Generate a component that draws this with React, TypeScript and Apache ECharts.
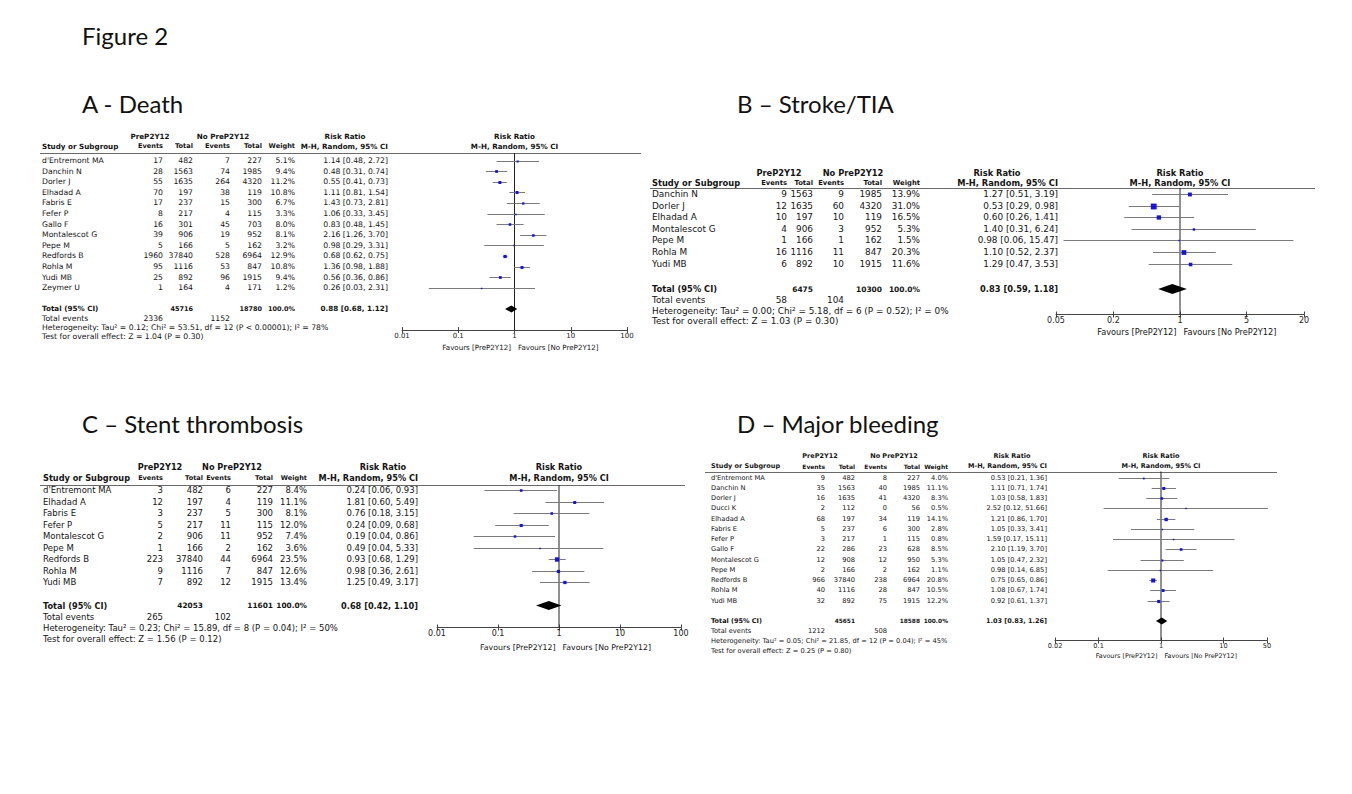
import React, { useEffect, useRef } from "react";
import * as echarts from "echarts";

// ---------- Panel A – Death ----------
const studiesA = ["d'Entremont MA", "Danchin N", "Dorler J", "Elhadad A", "Fabris E", "Fefer P", "Gallo F", "Montalescot G", "Pepe M", "Redfords B", "Rohla M", "Yudi MB", "Zeymer U"];
const preEventsA = [17, 28, 55, 70, 17, 8, 16, 39, 5, 1960, 95, 25, 1];
const preTotalA = [482, 1563, 1635, 197, 237, 217, 301, 906, 166, 37840, 1116, 892, 164];
const noEventsA = [7, 74, 264, 38, 15, 4, 45, 19, 5, 528, 53, 96, 4];
const noTotalA = [227, 1985, 4320, 119, 300, 115, 703, 952, 162, 6964, 847, 1915, 171];
const weightA = [5.1, 9.4, 11.2, 10.8, 6.7, 3.3, 8.0, 8.1, 3.2, 12.9, 10.8, 9.4, 1.2];
const rrA = [1.14, 0.48, 0.55, 1.11, 1.43, 1.06, 0.83, 2.16, 0.98, 0.68, 1.36, 0.56, 0.26];
const loA = [0.48, 0.31, 0.41, 0.81, 0.73, 0.33, 0.48, 1.26, 0.29, 0.62, 0.98, 0.36, 0.03];
const hiA = [2.72, 0.74, 0.73, 1.54, 2.81, 3.45, 1.45, 3.70, 3.31, 0.75, 1.88, 0.86, 2.31];
const totalsA = [45716, 18780];
const totalEventsA = [2336, 1152];
const pooledA = [0.88, 0.68, 1.12];
const hetA = "Heterogeneity: Tau² = 0.12; Chi² = 53.51, df = 12 (P < 0.00001); I² = 78%";
const testA = "Test for overall effect: Z = 1.04 (P = 0.30)";
const ticksA = [0.01, 0.1, 1, 10, 100];

// ---------- Panel B – Stroke/TIA ----------
const studiesB = ["Danchin N", "Dorler J", "Elhadad A", "Montalescot G", "Pepe M", "Rohla M", "Yudi MB"];
const preEventsB = [9, 12, 10, 4, 1, 16, 6];
const preTotalB = [1563, 1635, 197, 906, 166, 1116, 892];
const noEventsB = [9, 60, 10, 3, 1, 11, 10];
const noTotalB = [1985, 4320, 119, 952, 162, 847, 1915];
const weightB = [13.9, 31.0, 16.5, 5.3, 1.5, 20.3, 11.6];
const rrB = [1.27, 0.53, 0.60, 1.40, 0.98, 1.10, 1.29];
const loB = [0.51, 0.29, 0.26, 0.31, 0.06, 0.52, 0.47];
const hiB = [3.19, 0.98, 1.41, 6.24, 15.47, 2.37, 3.53];
const totalsB = [6475, 10300];
const totalEventsB = [58, 104];
const pooledB = [0.83, 0.59, 1.18];
const hetB = "Heterogeneity: Tau² = 0.00; Chi² = 5.18, df = 6 (P = 0.52); I² = 0%";
const testB = "Test for overall effect: Z = 1.03 (P = 0.30)";
const ticksB = [0.05, 0.2, 1, 5, 20];

// ---------- Panel C – Stent thrombosis ----------
const studiesC = ["d'Entremont MA", "Elhadad A", "Fabris E", "Fefer P", "Montalescot G", "Pepe M", "Redfords B", "Rohla M", "Yudi MB"];
const preEventsC = [3, 12, 3, 5, 2, 1, 223, 9, 7];
const preTotalC = [482, 197, 237, 217, 906, 166, 37840, 1116, 892];
const noEventsC = [6, 4, 5, 11, 11, 2, 44, 7, 12];
const noTotalC = [227, 119, 300, 115, 952, 162, 6964, 847, 1915];
const weightC = [8.4, 11.1, 8.1, 12.0, 7.4, 3.6, 23.5, 12.6, 13.4];
const rrC = [0.24, 1.81, 0.76, 0.24, 0.19, 0.49, 0.93, 0.98, 1.25];
const loC = [0.06, 0.60, 0.18, 0.09, 0.04, 0.04, 0.68, 0.36, 0.49];
const hiC = [0.93, 5.49, 3.15, 0.68, 0.86, 5.33, 1.29, 2.61, 3.17];
const totalsC = [42053, 11601];
const totalEventsC = [265, 102];
const pooledC = [0.68, 0.42, 1.10];
const hetC = "Heterogeneity: Tau² = 0.23; Chi² = 15.89, df = 8 (P = 0.04); I² = 50%";
const testC = "Test for overall effect: Z = 1.56 (P = 0.12)";
const ticksC = [0.01, 0.1, 1, 10, 100];

// ---------- Panel D – Major bleeding ----------
const studiesD = ["d'Entremont MA", "Danchin N", "Dorler J", "Ducci K", "Elhadad A", "Fabris E", "Fefer P", "Gallo F", "Montalescot G", "Pepe M", "Redfords B", "Rohla M", "Yudi MB"];
const preEventsD = [9, 35, 16, 2, 68, 5, 3, 22, 12, 2, 966, 40, 32];
const preTotalD = [482, 1563, 1635, 112, 197, 237, 217, 286, 908, 166, 37840, 1116, 892];
const noEventsD = [8, 40, 41, 0, 34, 6, 1, 23, 12, 2, 238, 28, 75];
const noTotalD = [227, 1985, 4320, 56, 119, 300, 115, 628, 950, 162, 6964, 847, 1915];
const weightD = [4.0, 11.1, 8.3, 0.5, 14.1, 2.8, 0.8, 8.5, 5.3, 1.1, 20.8, 10.5, 12.2];
const rrD = [0.53, 1.11, 1.03, 2.52, 1.21, 1.05, 1.59, 2.10, 1.05, 0.98, 0.75, 1.08, 0.92];
const loD = [0.21, 0.71, 0.58, 0.12, 0.86, 0.33, 0.17, 1.19, 0.47, 0.14, 0.65, 0.67, 0.61];
const hiD = [1.36, 1.74, 1.83, 51.66, 1.70, 3.41, 15.11, 3.70, 2.32, 6.85, 0.86, 1.74, 1.37];
const totalsD = [45651, 18588];
const totalEventsD = [1212, 508];
const pooledD = [1.03, 0.83, 1.26];
const hetD = "Heterogeneity: Tau² = 0.05; Chi² = 21.85, df = 12 (P = 0.04); I² = 45%";
const testD = "Test for overall effect: Z = 0.25 (P = 0.80)";
const ticksD = [0.02, 0.1, 1, 10, 50];

const FONT = "DejaVu Sans";
const TITLE_FONT = "Lato";
const TEXT = "#141414";
const L = Math.log10;

type Lay = {
  fs: number; bfs: number; evScale: number; axFs: number; favFs: number; nameX: number; cols: number[]; centers: number[];
  h1: number; h2: number; lineY: number; lineX1: number; lineX2: number;
  firstRowY: number; pitch: number; totalGap: number; footerDy: number[];
  axisLeft: number; axisRight: number; axisY: number; favY: number; diamondH: number; boxK: number;
};

const layA: Lay = {
  fs: 7.7, bfs: 7.2, evScale: 0.92, axFs: 7, favFs: 7.1, nameX: 42, cols: [163, 193, 230, 262, 295, 388], centers: [150, 223, 345],
  h1: 136, h2: 146, lineY: 153, lineX1: 40, lineX2: 641, firstRowY: 160.5, pitch: 10.6, totalGap: 1,
  footerDy: [10, 19, 28], axisLeft: 402, axisRight: 627, axisY: 330, favY: 347, diamondH: 7, boxK: 0.9,
};
const layB: Lay = {
  fs: 8.9, bfs: 8.3, evScale: 0.82, axFs: 8, favFs: 8.2, nameX: 652, cols: [787, 813, 844, 882, 920, 1058], centers: [779, 853, 997],
  h1: 173, h2: 183, lineY: 188, lineX1: 650, lineX2: 1315, firstRowY: 194, pitch: 11.6, totalGap: 1.2,
  footerDy: [11, 21.5, 32], axisLeft: 1056, axisRight: 1304, axisY: 314.5, favY: 332, diamondH: 10, boxK: 1.05,
};
const layC: Lay = {
  fs: 8.5, bfs: 8.2, evScale: 0.8, axFs: 8, favFs: 7.8, nameX: 43, cols: [163, 203, 231, 273, 307, 418], centers: [160, 232, 383],
  h1: 467, h2: 478, lineY: 485, lineX1: 40, lineX2: 685, firstRowY: 490, pitch: 11.55, totalGap: 1,
  footerDy: [11.5, 22.5, 33], axisLeft: 437, axisRight: 681, axisY: 627.5, favY: 647, diamondH: 9, boxK: 0.9,
};
const layD: Lay = {
  fs: 6.7, bfs: 6.5, evScale: 0.92, axFs: 6.6, favFs: 6.4, nameX: 711, cols: [825, 855, 887, 920, 948, 1047], centers: [820, 894, 1012],
  h1: 456, h2: 466, lineY: 471.5, lineX1: 705, lineX2: 1277, firstRowY: 477.5, pitch: 10.25, totalGap: 1,
  footerDy: [10, 20, 30], axisLeft: 1055, axisRight: 1267, axisY: 640.5, favY: 656, diamondH: 7, boxK: 0.9,
};

type Panel = {
  studies: string[]; preEv: number[]; preTot: number[]; noEv: number[]; noTot: number[];
  weight: number[]; rr: number[]; lo: number[]; hi: number[];
  totals: number[]; totalEvents: number[]; pooled: number[]; het: string; test: string; ticks: number[]; lay: Lay;
};

const panels: Panel[] = [
  { studies: studiesA, preEv: preEventsA, preTot: preTotalA, noEv: noEventsA, noTot: noTotalA, weight: weightA, rr: rrA, lo: loA, hi: hiA, totals: totalsA, totalEvents: totalEventsA, pooled: pooledA, het: hetA, test: testA, ticks: ticksA, lay: layA },
  { studies: studiesB, preEv: preEventsB, preTot: preTotalB, noEv: noEventsB, noTot: noTotalB, weight: weightB, rr: rrB, lo: loB, hi: hiB, totals: totalsB, totalEvents: totalEventsB, pooled: pooledB, het: hetB, test: testB, ticks: ticksB, lay: layB },
  { studies: studiesC, preEv: preEventsC, preTot: preTotalC, noEv: noEventsC, noTot: noTotalC, weight: weightC, rr: rrC, lo: loC, hi: hiC, totals: totalsC, totalEvents: totalEventsC, pooled: pooledC, het: hetC, test: testC, ticks: ticksC, lay: layC },
  { studies: studiesD, preEv: preEventsD, preTot: preTotalD, noEv: noEventsD, noTot: noTotalD, weight: weightD, rr: rrD, lo: loD, hi: hiD, totals: totalsD, totalEvents: totalEventsD, pooled: pooledD, het: hetD, test: testD, ticks: ticksD, lay: layD },
];

const titles = [
  { text: "Figure 2", x: 82, y: 35 },
  { text: "A - Death", x: 82, y: 103 },
  { text: "B – Stroke/TIA", x: 737, y: 103 },
  { text: "C – Stent thrombosis", x: 82, y: 423 },
  { text: "D – Major bleeding", x: 737, y: 423 },
];

const f2 = (v: number) => v.toFixed(2);
const ciText = (r: number, l: number, h: number) => `${f2(r)} [${f2(l)}, ${f2(h)}]`;

function txt(x: number, y: number, text: string, fs: number, align = "left", bold = false, family = FONT, color = TEXT) {
  return {
    type: "text", x, y, silent: true,
    style: {
      text, fill: color, fontSize: fs, fontFamily: family, fontWeight: bold ? "bold" : "normal",
      align, textAlign: align, verticalAlign: "middle", textVerticalAlign: "middle",
    },
  };
}

function buildPanel(p: Panel, gi: number) {
  const lay = p.lay;
  const n = p.studies.length;
  const tv = p.ticks.map(L);
  const xmin = tv[0];
  const xmax = tv[tv.length - 1];
  const ymin = (lay.lineY - lay.firstRowY) / lay.pitch;
  const ymax = (lay.axisY - lay.firstRowY) / lay.pitch;
  const totalRow = n + lay.totalGap;
  const width = lay.axisRight - lay.axisLeft;
  const x1 = lay.axisLeft + ((0 - xmin) / (xmax - xmin)) * width;
  const fs = lay.fs;
  const bfs = lay.bfs;
  const efs = bfs * lay.evScale;
  const nfs = bfs * 0.9;
  const c = lay.cols;
  const xi = 2 * gi;

  const grid = { left: lay.axisLeft, top: lay.lineY, width, height: lay.axisY - lay.lineY, outerBoundsMode: "none", containLabel: false };
  const fmtTick = (v: number) => {
    const t = p.ticks.find((t) => Math.abs(L(t) - v) < 1e-6);
    return t === undefined ? "" : String(t);
  };
  const xAxes = [
    {
      type: "value", gridIndex: gi, min: xmin, max: xmax, position: "bottom",
      axisLine: { show: true, onZero: false, lineStyle: { color: "#444", width: 1 } },
      axisTick: { show: true, customValues: tv, length: 3, lineStyle: { color: "#444", width: 1 } },
      axisLabel: { show: true, customValues: tv, formatter: fmtTick, fontSize: lay.axFs, fontFamily: FONT, color: "#222", margin: 2 },
      splitLine: { show: false },
    },
    {
      type: "value", gridIndex: gi, min: xmin, max: xmax, position: "bottom",
      axisLine: { show: false, onZero: false },
      axisTick: { show: true, inside: true, customValues: tv, length: 3, lineStyle: { color: "#444", width: 1 } },
      axisLabel: { show: false }, splitLine: { show: false },
    },
  ];
  const yAxis = { type: "value", gridIndex: gi, min: ymin, max: ymax, inverse: true, show: false, splitLine: { show: false } };

  const forestData = p.rr.map((r, i) => [L(r), i, L(p.lo[i]), L(p.hi[i]), p.weight[i]]);
  const series: any[] = [
    {
      type: "line", xAxisIndex: xi, yAxisIndex: gi, data: [[0, ymin], [0, ymax]], symbol: "none",
      lineStyle: { color: "#222", width: 1 }, silent: true, z: 2,
    },
    {
      type: "custom", coordinateSystem: "cartesian2d", xAxisIndex: xi, yAxisIndex: gi, data: forestData, z: 3,
      encode: { x: [0, 2, 3], y: 1 },
      renderItem: (_params: any, api: any) => {
        const pt = api.coord([api.value(0), api.value(1)]);
        const yy = Math.round(pt[1]) + 0.5;
        const lx = api.coord([api.value(2), api.value(1)])[0];
        const hx = api.coord([api.value(3), api.value(1)])[0];
        const s = Math.max(1.5, lay.boxK * Math.sqrt(api.value(4)));
        return {
          type: "group",
          children: [
            { type: "line", shape: { x1: lx, y1: yy, x2: hx, y2: yy }, style: { stroke: "#7a7a7a", lineWidth: 1 } },
            { type: "rect", shape: { x: pt[0] - s / 2, y: yy - s / 2, width: s, height: s }, style: { fill: "#1414dc" } },
          ],
        };
      },
    },
    {
      type: "custom", coordinateSystem: "cartesian2d", xAxisIndex: xi, yAxisIndex: gi, z: 3,
      data: [[L(p.pooled[0]), totalRow, L(p.pooled[1]), L(p.pooled[2])]],
      encode: { x: [0, 2, 3], y: 1 },
      renderItem: (_params: any, api: any) => {
        const pt = api.coord([api.value(0), api.value(1)]);
        const lx = api.coord([api.value(2), api.value(1)])[0];
        const hx = api.coord([api.value(3), api.value(1)])[0];
        const h = lay.diamondH / 2;
        return {
          type: "polygon",
          shape: { points: [[lx, pt[1]], [pt[0], pt[1] - h], [hx, pt[1]], [pt[0], pt[1] + h]] },
          style: { fill: "#000" },
        };
      },
    },
    {
      type: "custom", coordinateSystem: "cartesian2d", xAxisIndex: xi, yAxisIndex: gi, z: 4,
      data: p.studies.map((_s, i) => [0, i]),
      renderItem: (params: any, api: any) => {
        const i = params.dataIndex;
        const y = api.coord([0, api.value(1)])[1];
        return {
          type: "group",
          children: [
            txt(lay.nameX, y, p.studies[i], fs, "left"),
            txt(c[0], y, String(p.preEv[i]), fs, "right"),
            txt(c[1], y, String(p.preTot[i]), fs, "right"),
            txt(c[2], y, String(p.noEv[i]), fs, "right"),
            txt(c[3], y, String(p.noTot[i]), fs, "right"),
            txt(c[4], y, p.weight[i].toFixed(1) + "%", fs, "right"),
            txt(c[5], y, ciText(p.rr[i], p.lo[i], p.hi[i]), fs, "right"),
          ],
        };
      },
    },
    {
      type: "custom", coordinateSystem: "cartesian2d", xAxisIndex: xi, yAxisIndex: gi, z: 4,
      data: [[0, totalRow]],
      renderItem: (_params: any, api: any) => {
        const y = api.coord([0, api.value(1)])[1];
        const d = lay.footerDy;
        return {
          type: "group",
          children: [
            txt(lay.nameX, y, "Total (95% CI)", bfs, "left", true),
            txt(c[1], y, String(p.totals[0]), nfs, "right", true),
            txt(c[3], y, String(p.totals[1]), nfs, "right", true),
            txt(c[4], y, "100.0%", nfs, "right", true),
            txt(c[5], y, ciText(p.pooled[0], p.pooled[1], p.pooled[2]), bfs, "right", true),
            txt(lay.nameX, y + d[0], "Total events", fs, "left"),
            txt(c[0], y + d[0], String(p.totalEvents[0]), fs, "right"),
            txt(c[2], y + d[0], String(p.totalEvents[1]), fs, "right"),
            txt(lay.nameX, y + d[1], p.het, fs, "left"),
            txt(lay.nameX, y + d[2], p.test, fs, "left"),
          ],
        };
      },
    },
  ];

  const ly = Math.round(lay.lineY) + 0.5;
  const graphics: any[] = [
    { type: "line", silent: true, shape: { x1: lay.lineX1, y1: ly, x2: lay.lineX2, y2: ly }, style: { stroke: "#6a6a6a", lineWidth: 1 } },
    txt(lay.centers[0], lay.h1, "PreP2Y12", bfs, "center", true),
    txt(lay.centers[1], lay.h1, "No PreP2Y12", bfs, "center", true),
    txt(lay.centers[2], lay.h1, "Risk Ratio", bfs, "center", true),
    txt(x1, lay.h1, "Risk Ratio", bfs, "center", true),
    txt(lay.nameX, lay.h2, "Study or Subgroup", bfs, "left", true),
    txt(c[0], lay.h2, "Events", efs, "right", true),
    txt(c[1], lay.h2, "Total", efs, "right", true),
    txt(c[2], lay.h2, "Events", efs, "right", true),
    txt(c[3], lay.h2, "Total", efs, "right", true),
    txt(c[4], lay.h2, "Weight", efs, "right", true),
    txt(c[5], lay.h2, "M-H, Random, 95% CI", bfs, "right", true),
    txt(x1, lay.h2, "M-H, Random, 95% CI", bfs, "center", true),
    txt(x1 - 3.5, lay.favY, "Favours [PreP2Y12]", lay.favFs, "right"),
    txt(x1 + 3.5, lay.favY, "Favours [No PreP2Y12]", lay.favFs, "left"),
  ];
  return { grid, xAxes, yAxis, series, graphics };
}

function buildOption() {
  const built = panels.map((p, i) => buildPanel(p, i));
  const titleGraphics = titles.map((t) => txt(t.x, t.y, t.text, 24, "left", false, TITLE_FONT, "#111"));
  return {
    animation: false,
    backgroundColor: "#ffffff",
    grid: built.map((b) => b.grid),
    xAxis: built.flatMap((b) => b.xAxes),
    yAxis: built.map((b) => b.yAxis),
    series: built.flatMap((b) => b.series),
    graphic: { elements: [...titleGraphics, ...built.flatMap((b) => b.graphics)] },
  };
}

export default function App() {
  const ref = useRef<HTMLDivElement>(null);
  useEffect(() => {
    if (!ref.current) return;
    const chart = echarts.init(ref.current, undefined, { renderer: "svg", width: 1352, height: 794 });
    chart.setOption(buildOption() as any);
    return () => chart.dispose();
  }, []);
  return (
    <div
      ref={ref}
      style={{ position: "fixed", left: 0, top: 0, width: 1352, height: 794, background: "#fff" }}
    />
  );
}
